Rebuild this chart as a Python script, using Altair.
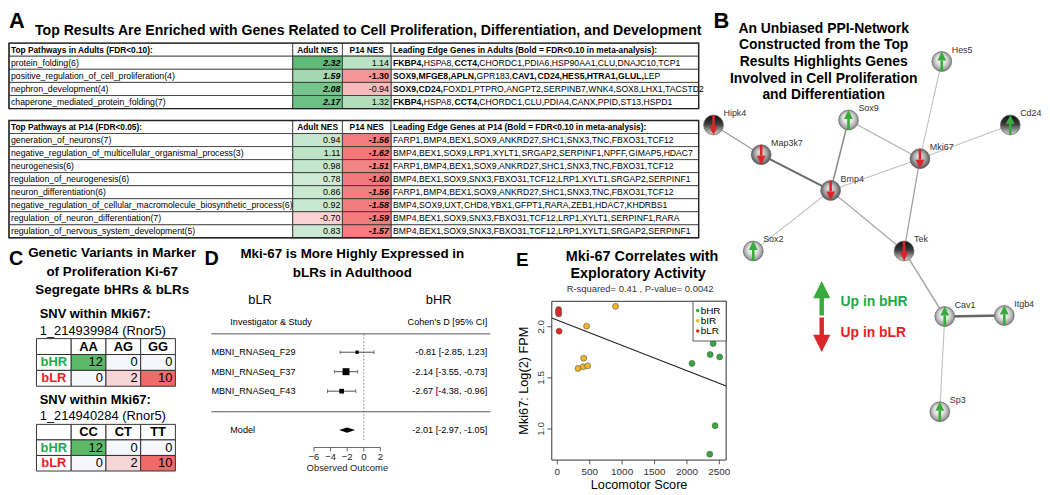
import altair as alt
import pandas as pd

OFF = 8            # page margin: reference pixel x/y -> chart pixel x-8 / y-8
W, H = 1042, 487
SANS = "Liberation Sans, Arial, Helvetica, sans-serif"
GREEN_T = "#1FA84A"
RED_T = "#EC1C24"
GRID = "#333333"

# ---------------- Panel A data ----------------
top_header = ["Top Pathways in Adults (FDR<0.10):", "Adult NES", "P14 NES",
              "Leading Edge Genes in Adults (Bold = FDR<0.10 in meta-analysis):"]
top_pathways = ["protein_folding(6)", "positive_regulation_of_cell_proliferation(4)",
                "nephron_development(4)", "chaperone_mediated_protein_folding(7)"]
top_adult = [2.32, 1.59, 2.08, 2.17]
top_p14 = [1.14, -1.30, -0.94, 1.32]
top_genes = [
    "FKBP4,HSPA8,CCT4,CHORDC1,PDIA6,HSP90AA1,CLU,DNAJC10,TCP1",
    "SOX9,MFGE8,APLN,GPR183,CAV1,CD24,HES5,HTRA1,GLUL,LEP",
    "SOX9,CD24,FOXD1,PTPRO,ANGPT2,SERPINB7,WNK4,SOX8,LHX1,TACSTD2",
    "FKBP4,HSPA8,CCT4,CHORDC1,CLU,PDIA4,CANX,PPID,ST13,HSPD1",
]
top_bold = [{"FKBP4", "CCT4"},
            {"SOX9", "MFGE8", "APLN", "CAV1", "CD24", "HES5", "HTRA1", "GLUL"},
            {"SOX9", "CD24"},
            {"FKBP4", "CCT4"}]
top_adult_style = ["bi", "bi", "bi", "bi"]
top_p14_style = ["n", "b", "n", "n"]

p14_header = ["Top Pathways at P14 (FDR<0.05):", "Adult NES", "P14 NES",
              "Leading Edge Genes at P14 (Bold = FDR<0.10 in meta-analysis):"]
p14_pathways = ["generation_of_neurons(7)",
                "negative_regulation_of_multicellular_organismal_process(3)",
                "neurogenesis(6)", "regulation_of_neurogenesis(6)",
                "neuron_differentiation(6)",
                "negative_regulation_of_cellular_macromolecule_biosynthetic_process(6)",
                "regulation_of_neuron_differentiation(7)",
                "regulation_of_nervous_system_development(5)"]
p14_adult = [0.94, 1.11, 0.98, 0.78, 0.86, 0.92, -0.70, 0.83]
p14_p14 = [-1.56, -1.62, -1.51, -1.60, -1.56, -1.58, -1.59, -1.57]
p14_genes = [
    "FARP1,BMP4,BEX1,SOX9,ANKRD27,SHC1,SNX3,TNC,FBXO31,TCF12",
    "BMP4,BEX1,SOX9,LRP1,XYLT1,SRGAP2,SERPINF1,NPFF,GIMAP5,HDAC7",
    "FARP1,BMP4,BEX1,SOX9,ANKRD27,SHC1,SNX3,TNC,FBXO31,TCF12",
    "BMP4,BEX1,SOX9,SNX3,FBXO31,TCF12,LRP1,XYLT1,SRGAP2,SERPINF1",
    "FARP1,BMP4,BEX1,SOX9,ANKRD27,SHC1,SNX3,TNC,FBXO31,TCF12",
    "BMP4,SOX9,UXT,CHD8,YBX1,GFPT1,RARA,ZEB1,HDAC7,KHDRBS1",
    "BMP4,BEX1,SOX9,SNX3,FBXO31,TCF12,LRP1,XYLT1,SERPINF1,RARA",
    "BMP4,BEX1,SOX9,SNX3,FBXO31,TCF12,LRP1,XYLT1,SRGAP2,SERPINF1",
]
p14_bold = [set() for _ in p14_genes]
p14_adult_style = ["n"] * 8
p14_p14_style = ["bi"] * 8

# ---------------- Panel C data ----------------
snv_titles = ["SNV within Mki67:", "SNV within Mki67:"]
snv_ids = ["1_214939984 (Rnor5)", "1_214940284 (Rnor5)"]
snv_genos = [["AA", "AG", "GG"], ["CC", "CT", "TT"]]
snv_groups = ["bHR", "bLR"]
snv_bhr = [12, 0, 0]
snv_blr = [0, 2, 10]

# ---------------- Panel D data ----------------
forest_study = ["MBNI_RNASeq_F29", "MBNI_RNASeq_F37", "MBNI_RNASeq_F43"]
forest_d = [-0.81, -2.14, -2.67]
forest_lo = [-2.85, -3.55, -4.38]
forest_hi = [1.23, -0.73, -0.96]
forest_w = [22.0, 46.5, 31.5]
model_d, model_lo, model_hi = -2.01, -2.97, -1.05
forest_ticks = [-6, -4, -2, 0, 2]

# ---------------- Panel E data ----------------
e_groups = ["bHR", "bIR", "bLR"]
e_colors = ["#33AA3A", "#F2B424", "#E8261C"]
bhr_x = [2078, 2358, 2404, 2505, 2434, 2352]
bhr_y = [1.641, 1.728, 1.835, 1.705, 1.032, 0.753]
bir_x = [899, 452, 407, 320, 401, 468]
bir_y = [2.20, 2.006, 1.692, 1.592, 1.608, 1.617]
blr_x = [20, 22, 16, 28]
blr_y = [2.168, 2.126, 2.147, 1.957]
fit_b0, fit_b1 = 2.064, -0.000247
e_xticks = [0, 500, 1000, 1500, 2000, 2500]
e_yticks = [1.0, 1.5, 2.0]

# ---------------- Panel B data (network layout) ----------------
node_name = ["Hipk4", "Map3k7", "Sox9", "Hes5", "Cd24", "Mki67", "Bmp4",
             "Sox2", "Tek", "Cav1", "Itgb4", "Sp3"]
node_x = [719, 767, 855, 949, 1018, 927, 837, 759, 911, 952, 1012, 947]
node_y = [124, 154, 119, 60, 124, 158, 190, 251, 251, 317, 316, 413]
node_dir = ["down", "down", "up", "up", "up", "down", "down",
            "up", "down", "up", "up", "up"]
node_tone = ["dark", "mid", "light", "light", "dark", "mid", "mid",
             "light", "dark", "light", "light", "light"]
edge_a = ["Hipk4", "Map3k7", "Sox9", "Sox9", "Bmp4", "Hes5", "Mki67", "Mki67",
          "Bmp4", "Bmp4", "Tek", "Cav1", "Cav1"]
edge_b = ["Map3k7", "Bmp4", "Bmp4", "Mki67", "Mki67", "Mki67", "Cd24", "Tek",
          "Sox2", "Tek", "Cav1", "Itgb4", "Sp3"]
edge_col = ["#9a9a9a", "#6a6a6a", "#8a8a8a", "#b0b0b0", "#c0c0c0", "#c0c0c0",
            "#c0c0c0", "#a0a0a0", "#c0c0c0", "#a8a8a8", "#a8a8a8", "#666666", "#c0c0c0"]
edge_w = [1.2, 2.0, 1.5, 1.3, 1.1, 1.1, 1.1, 1.3, 1.1, 1.3, 1.5, 2.4, 1.1]


def rng(a, b):
    return [a - OFF, b - OFF]


layers = []


def ann(text, x, y, size=12, weight="normal", align="left", color="black",
        font=SANS, angle=0, baseline="middle", style="normal"):
    d = pd.DataFrame({"t": [text]})
    kw = dict(fontSize=size, fontWeight=weight, align=align, color=color,
              font=font, baseline=baseline, fontStyle=style)
    if angle:
        kw["angle"] = angle
    return alt.Chart(d).mark_text(**kw).encode(
        x=alt.value(x - OFF), y=alt.value(y - OFF), text="t:N")


# ---------- text width estimate (Arial / Liberation Sans metrics) for mixed bold runs ----------
REG_W = dict(A=667, B=667, C=722, D=722, E=667, F=611, G=778, H=722, I=278, J=500,
             K=667, L=556, M=833, N=722, O=778, P=667, Q=778, R=722, S=667, T=611,
             U=722, V=667, W=944, X=667, Y=667, Z=611)
BOLD_W = dict(REG_W, A=722, B=722, J=556, K=722, L=611)
REG_W[","] = BOLD_W[","] = 278


def em_width(s, bold):
    tbl = BOLD_W if bold else REG_W
    return sum(tbl.get(ch, 556) for ch in s) / 1000.0


# ---------------- Panel A tables ----------------
TABLE_X = [9, 295, 345, 394, 704]
FS_P = 8.8     # pathway names
FS_G = 8.7     # leading-edge genes
FS_H = 8.4     # header row
FS_N = 9.0     # NES numbers
NES_SCALE = alt.Scale(domain=[-1.62, -0.7, 0, 0.8, 1.6, 2.35],
                      range=["#F3787A", "#F9D2D3", "#FFFFFF", "#CDEAD4", "#A4D8B1", "#5DBA78"],
                      interpolate="rgb", clamp=True)


def nes_table(header, pathways, adult, p14, genes, bold_sets, a_style, p_style, top, bottom):
    out = []
    n = len(pathways) + 1
    xs = alt.Scale(domain=[0, 1, 2, 3, 4], range=[v - OFF for v in TABLE_X], nice=False, zero=False)
    ys = alt.Scale(domain=[0, n], range=rng(top, bottom), nice=False, zero=False)

    def XE(f):
        return alt.X(f"{f}:Q", scale=xs, axis=None)

    def YE(f):
        return alt.Y(f"{f}:Q", scale=ys, axis=None)

    grid = pd.DataFrame([{"c": c, "c2": c + 1, "r": r, "r2": r + 1}
                         for r in range(n) for c in range(4)])
    out.append(alt.Chart(grid).mark_rect(fill="white", stroke=GRID, strokeWidth=0.8).encode(
        x=XE("c"), x2="c2", y=YE("r"), y2="r2"))
    k = len(pathways)
    vals = pd.DataFrame({"r": list(range(1, n)) * 2, "c": [1] * k + [2] * k,
                         "v": list(adult) + list(p14), "st": list(a_style) + list(p_style)})
    vals["c2"] = vals["c"] + 1
    vals["r2"] = vals["r"] + 1
    vals["yc"] = vals["r"] + 0.5
    vals["lab"] = [f"{v:.2f}" for v in vals["v"]]
    out.append(alt.Chart(vals).mark_rect(stroke=GRID, strokeWidth=0.8).encode(
        x=XE("c"), x2="c2", y=YE("r"), y2="r2",
        color=alt.Color("v:Q", scale=NES_SCALE, legend=None)))
    styles = {"n": ("normal", "normal"), "b": ("bold", "normal"), "bi": ("bold", "italic")}
    for st, (wt, sty) in styles.items():
        sub = vals[vals["st"] == st]
        if len(sub):
            out.append(alt.Chart(sub).mark_text(
                align="right", dx=-2, font=SANS, fontSize=FS_N, fontWeight=wt,
                fontStyle=sty, baseline="middle").encode(x=XE("c2"), y=YE("yc"), text="lab:N"))
    hl = pd.DataFrame({"c": [0, 3], "t": [header[0], header[3]], "yc": [0.5, 0.5]})
    hc = pd.DataFrame({"c": [1.5, 2.5], "t": [header[1], header[2]], "yc": [0.5, 0.5]})
    out.append(alt.Chart(hl).mark_text(align="left", dx=2, font=SANS, fontSize=FS_H,
                                       fontWeight="bold", baseline="middle").encode(
        x=XE("c"), y=YE("yc"), text="t:N"))
    out.append(alt.Chart(hc).mark_text(align="center", font=SANS, fontSize=FS_H,
                                       fontWeight="bold", baseline="middle").encode(
        x=XE("c"), y=YE("yc"), text="t:N"))
    pw = pd.DataFrame({"c": [0] * k, "t": pathways, "yc": [r + 0.5 for r in range(1, n)]})
    out.append(alt.Chart(pw).mark_text(align="left", dx=2, font=SANS, fontSize=FS_P,
                                       baseline="middle").encode(
        x=XE("c"), y=YE("yc"), text="t:N"))
    # leading-edge genes, split into bold / normal runs
    toks = []
    for r, (g, bs) in enumerate(zip(genes, bold_sets), start=1):
        parts = g.split(",")
        pos = 0.0
        for i, p in enumerate(parts):
            t = p + ("," if i < len(parts) - 1 else "")
            b = p in bs
            toks.append({"em": pos, "tok": t, "b": b, "yc": r + 0.5})
            pos += em_width(t, b)
    toks = pd.DataFrame(toks)
    gx = alt.Scale(domain=[0, 40], range=[TABLE_X[3] + 2 - OFF, TABLE_X[3] + 2 + 40 * FS_G - OFF],
                   nice=False, zero=False)
    for b in (False, True):
        sub = toks[toks["b"] == b]
        if len(sub):
            out.append(alt.Chart(sub).mark_text(
                align="left", font=SANS, fontSize=FS_G, baseline="middle",
                fontWeight="bold" if b else "normal").encode(
                x=alt.X("em:Q", scale=gx, axis=None), y=YE("yc"), text="tok:N"))
    border = pd.DataFrame({"c": [0], "c2": [4], "r": [0], "r2": [n]})
    out.append(alt.Chart(border).mark_rect(filled=False, stroke="#222", strokeWidth=1.4).encode(
        x=XE("c"), x2="c2", y=YE("r"), y2="r2"))
    return out


layers.append(ann("A", 9, 26, size=22, weight="bold", baseline="alphabetic"))
layers.append(ann("Top Results Are Enriched with Genes Related to Cell Proliferation, Differentiation, and Development",
                  371, 29, size=14.2, weight="bold", align="center"))
layers += nes_table(top_header, top_pathways, top_adult, top_p14, top_genes, top_bold,
                    top_adult_style, top_p14_style, 41.5, 107.5)
layers += nes_table(p14_header, p14_pathways, p14_adult, p14_p14, p14_genes, p14_bold,
                    p14_adult_style, p14_p14_style, 119.5, 237.7)

# ---------------- Panel B network ----------------
layers.append(ann("B", 719, 26, size=22, weight="bold", baseline="alphabetic"))
for i, line in enumerate(["An Unbiased PPI-Network", "Constructed from the Top",
                          "Results Highlights Genes", "Involved in Cell Proliferation",
                          "and Differentiation"]):
    layers.append(ann(line, 830, 27 + i * 16.8, size=14, weight="bold", align="center"))

nodes = pd.DataFrame({"name": node_name, "x": node_x, "y": node_y,
                      "dir": node_dir, "tone": node_tone})
pos = {n: (x, y) for n, x, y in zip(node_name, node_x, node_y)}
edges = pd.DataFrame({"x": [pos[a][0] for a in edge_a], "y": [pos[a][1] for a in edge_a],
                      "x2": [pos[b][0] for b in edge_b], "y2": [pos[b][1] for b in edge_b],
                      "col": edge_col, "w": edge_w})
bx = alt.Scale(domain=[700, 1050], range=rng(700, 1050), nice=False, zero=False)
by = alt.Scale(domain=[0, 495], range=rng(0, 495), nice=False, zero=False)
BX = alt.X("x:Q", scale=bx, axis=None)
BY = alt.Y("y:Q", scale=by, axis=None)
layers.append(alt.Chart(edges).mark_rule().encode(
    x=BX, y=BY, x2="x2", y2="y2",
    color=alt.Color("col:N", scale=None), strokeWidth=alt.StrokeWidth("w:Q", scale=None)))

GRADS = {
    "light": {"gradient": "radial", "x1": 0.45, "y1": 0.35, "r1": 0.0, "x2": 0.5, "y2": 0.5, "r2": 0.55,
              "stops": [{"offset": 0, "color": "#ffffff"}, {"offset": 0.45, "color": "#e4e4e4"},
                        {"offset": 0.8, "color": "#a4a4a4"}, {"offset": 1, "color": "#5e5e5e"}]},
    "mid": {"gradient": "radial", "x1": 0.45, "y1": 0.35, "r1": 0.0, "x2": 0.5, "y2": 0.5, "r2": 0.55,
            "stops": [{"offset": 0, "color": "#eeeeee"}, {"offset": 0.5, "color": "#b0b0b0"},
                      {"offset": 0.85, "color": "#666666"}, {"offset": 1, "color": "#3a3a3a"}]},
    "dark": {"gradient": "linear", "x1": 0, "y1": 0, "x2": 0, "y2": 1,
             "stops": [{"offset": 0, "color": "#111111"}, {"offset": 0.45, "color": "#3a3a3a"},
                       {"offset": 0.8, "color": "#a0a0a0"}, {"offset": 1, "color": "#d0d0d0"}]},
}
for tone, grad in GRADS.items():
    sub = nodes[nodes["tone"] == tone]
    layers.append(alt.Chart(sub).mark_circle(size=400, fill=grad, stroke="#6a6a6a",
                                             strokeWidth=0.7, opacity=1).encode(x=BX, y=BY))

ARW_G = "#3AAA3C"
ARW_R = "#DA262B"
up = nodes[nodes["dir"] == "up"]
dn = nodes[nodes["dir"] == "down"]
layers.append(alt.Chart(up).mark_rule(color=ARW_G, strokeWidth=2.6, yOffset=10, y2Offset=-1).encode(
    x=BX, y=BY, y2="y"))
layers.append(alt.Chart(up).mark_point(shape="M0,-1L1,1L-1,1Z", filled=True, color=ARW_G, size=81,
                                       opacity=1, yOffset=-5.5).encode(x=BX, y=BY))
layers.append(alt.Chart(dn).mark_rule(color=ARW_R, strokeWidth=2.6, yOffset=-10, y2Offset=1).encode(
    x=BX, y=BY, y2="y"))
layers.append(alt.Chart(dn).mark_point(shape="M0,1L1,-1L-1,-1Z", filled=True, color=ARW_R, size=81,
                                       opacity=1, yOffset=5.5).encode(x=BX, y=BY))
layers.append(alt.Chart(nodes).mark_text(align="left", dx=10, dy=-12, fontSize=9, font=SANS,
                                         color="#333").encode(x=BX, y=BY, text="name:N"))

# legend arrows
lg = pd.DataFrame({"a": [0]})
layers.append(alt.Chart(lg).mark_rule(color=ARW_G, strokeWidth=4.5).encode(
    x=alt.value(828 - OFF), y=alt.value(297 - OFF), y2=alt.value(316 - OFF)))
layers.append(alt.Chart(lg).mark_point(shape="M0,-1L1,1L-1,1Z", filled=True, color=ARW_G, size=300,
                                       opacity=1).encode(x=alt.value(828 - OFF), y=alt.value(290 - OFF)))
layers.append(alt.Chart(lg).mark_rule(color=ARW_R, strokeWidth=4.5).encode(
    x=alt.value(828 - OFF), y=alt.value(318 - OFF), y2=alt.value(337 - OFF)))
layers.append(alt.Chart(lg).mark_point(shape="M0,1L1,-1L-1,-1Z", filled=True, color=ARW_R, size=300,
                                       opacity=1).encode(x=alt.value(828 - OFF), y=alt.value(344 - OFF)))
layers.append(ann("Up in bHR", 847, 302, size=14, weight="bold", color=GREEN_T))
layers.append(ann("Up in bLR", 847, 334, size=14, weight="bold", color=RED_T))

# ---------------- Panel C ----------------
layers.append(ann("C", 9, 265, size=20, weight="bold", baseline="alphabetic"))
for i, line in enumerate(["Genetic Variants in Marker", "of Proliferation Ki-67", "Segregate bHRs & bLRs"]):
    layers.append(ann(line, 113, 253 + i * 18.7, size=13.5, weight="bold", align="center"))

CX = [36.7, 71.7, 106.7, 141.7, 176.7]
SNV_SCALE = alt.Scale(domain=[-10, -2, 0, 12], range=["#EF6B6B", "#F8D5D6", "#F6F6FD", "#5CB96A"],
                      interpolate="rgb")


def snv_table(title, sid, genos, top, bottom):
    out = []
    out.append(ann(title, 40, top - 24.5, size=13, weight="bold"))
    out.append(ann(sid, 40, top - 8, size=13))
    xs = alt.Scale(domain=[0, 1, 2, 3, 4], range=[v - OFF for v in CX], nice=False, zero=False)
    ys = alt.Scale(domain=[0, 3], range=rng(top, bottom), nice=False, zero=False)
    XE = lambda f: alt.X(f"{f}:Q", scale=xs, axis=None)
    YE = lambda f: alt.Y(f"{f}:Q", scale=ys, axis=None)
    blank = pd.DataFrame({"c": [0, 1, 2, 3, 0, 0], "r": [0, 0, 0, 0, 1, 2]})
    blank["c2"] = blank["c"] + 1
    blank["r2"] = blank["r"] + 1
    out.append(alt.Chart(blank).mark_rect(fill="white", stroke=GRID, strokeWidth=1).encode(
        x=XE("c"), x2="c2", y=YE("r"), y2="r2"))
    cnt = pd.DataFrame({"c": [1, 2, 3, 1, 2, 3], "r": [1, 1, 1, 2, 2, 2],
                        "n": snv_bhr + snv_blr})
    cnt["s"] = [v if r == 1 else -v for v, r in zip(cnt["n"], cnt["r"])]
    cnt["c2"] = cnt["c"] + 1
    cnt["r2"] = cnt["r"] + 1
    cnt["yc"] = cnt["r"] + 0.5
    out.append(alt.Chart(cnt).mark_rect(stroke=GRID, strokeWidth=1).encode(
        x=XE("c"), x2="c2", y=YE("r"), y2="r2",
        color=alt.Color("s:Q", scale=SNV_SCALE, legend=None)))
    out.append(alt.Chart(cnt).mark_text(align="right", dx=-3, fontSize=13, font=SANS,
                                        baseline="middle").encode(x=XE("c2"), y=YE("yc"), text="n:Q"))
    hd = pd.DataFrame({"c": [1.5, 2.5, 3.5], "t": genos, "yc": [0.5] * 3})
    out.append(alt.Chart(hd).mark_text(align="center", fontSize=13, font=SANS, fontWeight="bold",
                                       baseline="middle").encode(x=XE("c"), y=YE("yc"), text="t:N"))
    rl = pd.DataFrame({"c": [0.5, 0.5], "t": snv_groups, "yc": [1.5, 2.5]})
    out.append(alt.Chart(rl).mark_text(align="center", fontSize=13, font=SANS, fontWeight="bold",
                                       baseline="middle").encode(
        x=XE("c"), y=YE("yc"), text="t:N",
        color=alt.Color("t:N", scale=alt.Scale(domain=snv_groups, range=[GREEN_T, RED_T]), legend=None)))
    return out


layers += snv_table(snv_titles[0], snv_ids[0], snv_genos[0], 339.3, 387.3)
layers += snv_table(snv_titles[1], snv_ids[1], snv_genos[1], 425.7, 472.7)

# ---------------- Panel D forest plot ----------------
layers.append(ann("D", 206, 265, size=20, weight="bold", baseline="alphabetic"))
layers.append(ann("Mki-67 is More Highly Expressed in", 355, 254, size=13.5, weight="bold", align="center"))
layers.append(ann("bLRs in Adulthood", 355, 273, size=13.5, weight="bold", align="center"))
layers.append(ann("bLR", 262, 300, size=13, align="center"))
layers.append(ann("bHR", 442, 300, size=13, align="center"))
layers.append(ann("Investigator & Study", 232, 323, size=9.2))
layers.append(ann("Cohen's D [95% CI]", 491, 323, size=9.2, align="right"))

fxs = alt.Scale(domain=[-6, 2], range=rng(316.3, 383.3), nice=False, zero=False)
fys = alt.Scale(domain=[0, 4], range=rng(353, 431.5), nice=False, zero=False)
FX = lambda f: alt.X(f"{f}:Q", scale=fxs, axis=None)
FY = lambda f: alt.Y(f"{f}:Q", scale=fys, axis=None)
fd = pd.DataFrame({"study": forest_study, "d": forest_d, "lo": forest_lo, "hi": forest_hi,
                   "w": forest_w, "row": [0, 1, 2]})
fd["lab"] = [f"{d:.2f} [{lo:.2f}, {hi:5.2f}]" for d, lo, hi in zip(fd["d"], fd["lo"], fd["hi"])]
sep = pd.DataFrame({"a": [0]})
for yy in (334.5, 413):
    layers.append(alt.Chart(sep).mark_rule(color="#555", strokeWidth=1).encode(
        x=alt.value(213 - OFF), x2=alt.value(494 - OFF), y=alt.value(yy - OFF)))
zero = pd.DataFrame({"x": [0]})
layers.append(alt.Chart(zero).mark_rule(color="#666", strokeWidth=0.8, strokeDash=[1.5, 2]).encode(
    x=FX("x"), y=alt.value(335 - OFF), y2=alt.value(442 - OFF)))
layers.append(alt.Chart(fd).mark_rule(color="#222", strokeWidth=0.8).encode(x=FX("lo"), x2="hi", y=FY("row")))
layers.append(alt.Chart(fd).mark_tick(orient="vertical", color="#222", size=4, thickness=0.8).encode(
    x=FX("lo"), y=FY("row")))
layers.append(alt.Chart(fd).mark_tick(orient="vertical", color="#222", size=4, thickness=0.8).encode(
    x=FX("hi"), y=FY("row")))
layers.append(alt.Chart(fd).mark_square(color="#000", opacity=1).encode(
    x=FX("d"), y=FY("row"),
    size=alt.Size("w:Q", scale=alt.Scale(type="pow", exponent=2, domain=[0, 46.5], range=[0, 49]),
                  legend=None)))
layers.append(alt.Chart(fd).mark_text(align="left", fontSize=9.2, font=SANS, baseline="middle").encode(
    x=alt.value(213 - OFF), y=FY("row"), text="study:N"))
layers.append(alt.Chart(fd).mark_text(align="right", fontSize=9.2, font=SANS, baseline="middle").encode(
    x=alt.value(491 - OFF), y=FY("row"), text="lab:N"))
dia = pd.DataFrame({"x": [model_lo, model_d, model_hi], "y": [4, 3.87, 4], "y2": [4, 4.13, 4]})
layers.append(alt.Chart(dia).mark_area(color="#000", opacity=1).encode(x=FX("x"), y=FY("y"), y2="y2"))
md = pd.DataFrame({"t": ["Model"], "lab": [f"{model_d:.2f} [{model_lo:.2f}, {model_hi:.2f}]"], "row": [4]})
layers.append(alt.Chart(md).mark_text(align="left", fontSize=9.2, font=SANS, baseline="middle").encode(
    x=alt.value(232 - OFF), y=FY("row"), text="t:N"))
layers.append(alt.Chart(md).mark_text(align="right", fontSize=9.2, font=SANS, baseline="middle").encode(
    x=alt.value(491 - OFF), y=FY("row"), text="lab:N"))
fax = pd.DataFrame({"a": [forest_ticks[0]], "b": [forest_ticks[-1]]})
layers.append(alt.Chart(fax).mark_rule(color="#444", strokeWidth=0.8).encode(
    x=FX("a"), x2="b", y=alt.value(449 - OFF)))
ft = pd.DataFrame({"t": forest_ticks})
layers.append(alt.Chart(ft).mark_rule(color="#444", strokeWidth=0.8).encode(
    x=FX("t"), y=alt.value(449 - OFF), y2=alt.value(453 - OFF)))
layers.append(alt.Chart(ft).mark_text(fontSize=9.5, font=SANS, baseline="middle", color="#222").encode(
    x=FX("t"), y=alt.value(459 - OFF), text="t:Q"))
layers.append(ann("Observed Outcome", 350, 470, size=9.5, align="center", color="#222"))

# ---------------- Panel E scatter ----------------
layers.append(ann("E", 520, 266, size=19, weight="bold", baseline="alphabetic"))
layers.append(ann("Mki-67 Correlates with", 647, 257, size=14.5, weight="bold", align="center"))
layers.append(ann("Exploratory Activity", 643, 274.5, size=14.5, weight="bold", align="center"))
layers.append(ann("R-squared= 0.41 , P-value= 0.0042", 645, 289.5, size=9.5, align="center", color="#333"))

X_DOM = [-85, 2605]
Y_DOM = [0.695, 2.249]
exs = alt.Scale(domain=X_DOM, range=rng(556, 731.7), nice=False, zero=False)
eys = alt.Scale(domain=Y_DOM, range=rng(461.7, 301.7), nice=False, zero=False)
EX = lambda f: alt.X(f"{f}:Q", scale=exs, axis=None)
EY = lambda f: alt.Y(f"{f}:Q", scale=eys, axis=None)
frame = pd.DataFrame({"x": [X_DOM[0]], "x2": [X_DOM[1]], "y": [Y_DOM[0]], "y2": [Y_DOM[1]]})
layers.append(alt.Chart(frame).mark_rect(filled=False, stroke="#333", strokeWidth=1).encode(
    x=EX("x"), x2="x2", y=EY("y"), y2="y2"))
fit = pd.DataFrame({"x": X_DOM, "y": [fit_b0 + fit_b1 * v for v in X_DOM]})
layers.append(alt.Chart(fit).mark_line(color="#222", strokeWidth=1.1).encode(x=EX("x"), y=EY("y")))
pts = pd.DataFrame({"g": ["bHR"] * len(bhr_x) + ["bIR"] * len(bir_x) + ["bLR"] * len(blr_x),
                    "x": bhr_x + bir_x + blr_x, "y": bhr_y + bir_y + blr_y})
layers.append(alt.Chart(pts).mark_circle(size=36, opacity=1, stroke="#555", strokeWidth=0.6).encode(
    x=EX("x"), y=EY("y"),
    color=alt.Color("g:N", scale=alt.Scale(domain=e_groups, range=e_colors), legend=None)))
# legend box
lb = pd.DataFrame({"a": [0]})
layers.append(alt.Chart(lb).mark_rect(fill="white", stroke="#333", strokeWidth=0.8).encode(
    x=alt.value(698.3 - OFF), x2=alt.value(731.7 - OFF), y=alt.value(301.7 - OFF), y2=alt.value(341.7 - OFF)))
leg = pd.DataFrame({"g": e_groups})
ly = alt.Scale(type="point", domain=e_groups, range=rng(311, 331.7), padding=0)
layers.append(alt.Chart(leg).mark_circle(size=12, opacity=1).encode(
    x=alt.value(703 - OFF), y=alt.Y("g:N", scale=ly, axis=None),
    color=alt.Color("g:N", scale=alt.Scale(domain=e_groups, range=e_colors), legend=None)))
layers.append(alt.Chart(leg).mark_text(align="left", fontSize=10, font=SANS, baseline="middle").encode(
    x=alt.value(706 - OFF), y=alt.Y("g:N", scale=ly, axis=None), text="g:N"))
# axes
xt = pd.DataFrame({"t": e_xticks})
layers.append(alt.Chart(xt).mark_rule(color="#333", strokeWidth=0.8).encode(
    x=EX("t"), y=alt.value(461.7 - OFF), y2=alt.value(466 - OFF)))
layers.append(alt.Chart(xt).mark_text(fontSize=10, font=SANS, baseline="middle", color="#333").encode(
    x=EX("t"), y=alt.value(473.5 - OFF), text="t:Q"))
yt = pd.DataFrame({"t": e_yticks, "lab": [f"{v:.1f}" for v in e_yticks]})
layers.append(alt.Chart(yt).mark_rule(color="#333", strokeWidth=0.8).encode(
    y=EY("t"), x=alt.value(551.5 - OFF), x2=alt.value(556 - OFF)))
layers.append(alt.Chart(yt).mark_text(fontSize=10, font=SANS, baseline="middle", color="#333",
                                      angle=270).encode(
    y=EY("t"), x=alt.value(545 - OFF), text="lab:N"))
layers.append(ann("Locomotor Score", 644, 487, size=12.8, align="center"))
layers.append(ann("Mki67: Log(2) FPM", 528, 381.7, size=12.8, align="center", angle=270))

chart = alt.layer(*layers).resolve_scale(
    x="independent", y="independent", color="independent", size="independent"
).properties(
    width=W, height=H, autosize=alt.AutoSizeParams(type="none"), padding=0
).configure_view(stroke=None)

chart.save("out.html", embed_options={"renderer": "svg", "actions": False})
